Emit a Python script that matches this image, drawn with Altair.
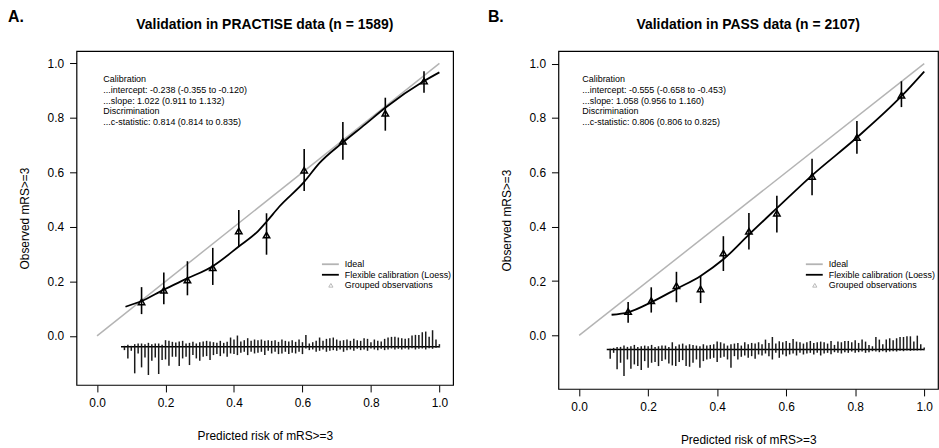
import altair as alt
import pandas as pd

# ---------------- Panel A: PRACTISE ----------------
A_title = "Validation in PRACTISE data (n = 1589)"
A_obs_x = [0.13, 0.195, 0.264, 0.338, 0.414, 0.495, 0.605, 0.718, 0.842, 0.955]
A_obs_y = [0.125, 0.168, 0.205, 0.25, 0.385, 0.37, 0.608, 0.714, 0.817, 0.935]
A_lo = [0.08, 0.116, 0.149, 0.187, 0.328, 0.298, 0.532, 0.646, 0.753, 0.892]
A_hi = [0.179, 0.233, 0.274, 0.323, 0.462, 0.45, 0.686, 0.785, 0.874, 0.971]
A_loess_x = [0.083, 0.13, 0.195, 0.264, 0.338, 0.414, 0.469, 0.495, 0.532, 0.605, 0.648, 0.718, 0.784, 0.842, 0.955, 1.0]
A_loess_y = [0.107, 0.128, 0.17, 0.211, 0.256, 0.328, 0.383, 0.419, 0.474, 0.565, 0.632, 0.71, 0.777, 0.837, 0.935, 0.967]
A_stats = ["Calibration", "...intercept: -0.238 (-0.355 to -0.120)", "...slope: 1.022 (0.911 to 1.132)",
           "Discrimination", "...c-statistic: 0.814 (0.814 to 0.835)"]
A_hist_start = 0.08
A_down = [10, 35, 12, 80, 20, 62, 32, 85, 42, 32, 82, 40, 38, 57, 30, 30, 58, 35, 30, 55, 25, 35, 42, 30, 28,
          40, 25, 22, 28, 20, 30, 20, 22, 25, 18, 15, 25, 15, 20, 18, 15, 25, 12, 20, 15,
          22, 20, 15, 22, 18, 20, 15, 22, 5, 10, 8, 15, 12, 8, 15, 12, 10, 12, 8, 15, 10, 8, 12, 6, 10,
          8, 12, 5, 8, 10, 6, 10, 8, 5, 8, 6, 8, 5, 8, 4, 8, 6, 5, 8, 4, 6, 3, 2]
A_up = [3, 6, 3, 8, 10, 10, 8, 12, 8, 10, 10, 6, 20, 18, 15, 13, 16, 18, 10, 12, 15, 10, 14, 16, 18,
        16, 14, 12, 18, 12, 15, 28, 22, 34, 16, 20, 26, 18, 22, 20, 22, 18, 20, 18, 20,
        15, 22, 18, 16, 20, 15, 22, 14, 36, 10, 14, 18, 28, 18, 24, 26, 28, 22, 18, 20, 22, 18, 24, 20, 18,
        26, 24, 14, 22, 18, 16, 24, 28, 30, 30, 28, 26, 24, 26, 34, 36, 36, 44, 46, 30, 50, 22, 8]

# ---------------- Panel B: PASS ----------------
B_title = "Validation in PASS data (n = 2107)"
B_obs_x = [0.142, 0.209, 0.282, 0.352, 0.418, 0.492, 0.573, 0.675, 0.805, 0.934]
B_obs_y = [0.088, 0.128, 0.183, 0.171, 0.303, 0.383, 0.45, 0.585, 0.728, 0.884]
B_lo = [0.047, 0.084, 0.122, 0.119, 0.237, 0.316, 0.379, 0.516, 0.668, 0.84]
B_hi = [0.123, 0.177, 0.234, 0.219, 0.365, 0.45, 0.514, 0.65, 0.789, 0.935]
B_loess_x = [0.094, 0.142, 0.209, 0.282, 0.352, 0.418, 0.492, 0.573, 0.675, 0.805, 0.934, 1.0]
B_loess_y = [0.076, 0.085, 0.122, 0.171, 0.219, 0.28, 0.371, 0.468, 0.589, 0.728, 0.88, 0.971]
B_stats = ["Calibration", "...intercept: -0.555 (-0.658 to -0.453)", "...slope: 1.058 (0.956 to 1.160)",
           "Discrimination", "...c-statistic: 0.806 (0.806 to 0.825)"]
B_hist_start = 0.09
B_down = [28, 10, 60, 40, 80, 30, 58, 45, 50, 62, 35, 55, 40, 38, 50, 35, 30, 42, 48, 50, 38, 32, 50, 52, 40,
          30, 55, 35, 30, 28, 25, 38, 25, 22, 30, 55, 20, 30, 22, 18, 25, 20, 28, 15, 18, 12,
          20, 30, 10, 25, 15, 20, 15, 12, 18, 10, 15, 12, 10, 15, 10, 18, 12, 10, 14, 8, 10, 12, 8, 10,
          6, 10, 8, 6, 10, 8, 5, 6, 8, 5, 8, 6, 5, 6, 4, 5, 3, 4, 3, 3, 2, 2]
B_up = [2, 5, 8, 8, 12, 8, 10, 14, 8, 10, 12, 10, 14, 8, 10, 12, 12, 8, 22, 10, 15, 18, 12, 16, 14,
        12, 10, 16, 12, 14, 16, 24, 22, 18, 12, 16, 18, 20, 12, 22, 16, 20, 18, 22, 16, 30,
        20, 38, 18, 25, 22, 26, 20, 32, 24, 22, 18, 22, 26, 20, 22, 24, 22, 18, 26, 14, 24, 22, 26, 26,
        22, 28, 20, 30, 24, 14, 10, 38, 30, 16, 30, 34, 28, 34, 38, 38, 40, 40, 24, 42, 16, 6]

legend_labels = ["Ideal", "Flexible calibration (Loess)", "Grouped observations"]
ticks = [0.0, 0.2, 0.4, 0.6, 0.8, 1.0]
FONT = "Liberation Sans"
HIST_UNIT = 1 / 822.0  # histogram bar units -> probability units


def panel(title, letter, obs_x, obs_y, lo, hi, lx, ly, stats, hstart, down, up,
          width, height, ydom, base, letter_x, stats_x, leg_x):
    xs = alt.Scale(domain=[-0.06, 1.04], nice=False, zero=False)
    ys = alt.Scale(domain=ydom, nice=False, zero=False)
    xaxis = alt.Axis(values=ticks, format=".1f", title="Predicted risk of mRS>=3",
                     titleX=width / 2, titleY=51, titleAlign="center", titleBaseline="middle")
    yaxis = alt.Axis(values=ticks, format=".1f", title="Observed mRS>=3",
                     titleX=-52, titleY=height / 2, titleAngle=-90,
                     titleAlign="center", titleBaseline="middle")

    def X(f):
        return alt.X(f, type="quantitative", scale=xs, axis=xaxis)

    def Y(f):
        return alt.Y(f, type="quantitative", scale=ys, axis=yaxis)

    one = pd.DataFrame({"k": [0]})

    ideal = alt.Chart(pd.DataFrame({"x": [0.0, 1.0], "y": [0.0, 1.0]})).mark_line(
        color="#b4b4b4", strokeWidth=1.5).encode(x=X("x"), y=Y("y"))
    loess = alt.Chart(pd.DataFrame({"x": lx, "y": ly})).mark_line(
        color="black", strokeWidth=1.8, interpolate="monotone").encode(x=X("x"), y=Y("y"))
    obs = pd.DataFrame({"x": obs_x, "y": obs_y, "lo": lo, "hi": hi})
    bars = alt.Chart(obs).mark_rule(color="black", strokeWidth=1.6).encode(
        x=X("x"), y=Y("lo"), y2=alt.Y2("hi"))
    tri = alt.Chart(obs).mark_point(shape="triangle-up", size=42, color="black",
                                    strokeWidth=1.5, opacity=1).encode(x=X("x"), y=Y("y"))

    bins = [round(hstart + 0.01 * i, 2) for i in range(len(up))]
    hist = pd.DataFrame({
        "x": bins + bins,
        "b": [base] * (2 * len(bins)),
        "t": [base + u * HIST_UNIT for u in up] + [base - d * HIST_UNIT for d in down],
    })
    hbars = alt.Chart(hist).mark_rule(color="#1a1a1a", strokeWidth=1.5).encode(
        x=X("x"), y=Y("b"), y2=alt.Y2("t"))
    hline = alt.Chart(pd.DataFrame({"x0": [bins[0] - 0.01], "x1": [bins[-1]], "y": [base]})).mark_rule(
        color="black", strokeWidth=1.5).encode(x=X("x0"), x2=alt.X2("x1"), y=Y("y"))

    stat_txt = alt.Chart(one).mark_text(
        align="left", baseline="alphabetic", fontSize=9, lineBreak="\n", lineHeight=10.7,
        font=FONT, color="black").encode(
        x=alt.value(stats_x), y=alt.value(31.5), text=alt.value("\n".join(stats)))

    lab = alt.Chart(one).mark_text(fontSize=16, fontWeight="bold", align="left",
                                   baseline="middle", font=FONT, color="black").encode(
        x=alt.value(letter_x), y=alt.value(-34), text=alt.value(letter))

    ttl = alt.Chart(one).mark_text(fontSize=14, fontWeight="bold", align="center",
                                   baseline="middle", font=FONT, color="black").encode(
        x=alt.value(width / 2), y=alt.value(-26), text=alt.value(title))

    # legend
    leg_layers = []
    ly0 = 214.5
    for i, (lab_txt, col) in enumerate(zip(legend_labels, ["#b4b4b4", "black", None])):
        yy = ly0 + 10.6 * i
        leg_layers.append(alt.Chart(one).mark_text(
            align="left", baseline="middle", fontSize=9, font=FONT, color="black").encode(
            x=alt.value(leg_x + 23), y=alt.value(yy), text=alt.value(lab_txt)))
        if col is not None:
            leg_layers.append(alt.Chart(one).mark_rule(color=col, strokeWidth=1.8).encode(
                x=alt.value(leg_x), x2=alt.value(leg_x + 17), y=alt.value(yy)))
        else:
            leg_layers.append(alt.Chart(one).mark_point(
                shape="triangle-up", size=18, color="#b8b8b8", strokeWidth=1, opacity=1).encode(
                x=alt.value(leg_x + 9), y=alt.value(yy)))

    return alt.layer(ideal, hline, hbars, loess, bars, tri, stat_txt, lab, ttl, *leg_layers).properties(
        width=width, height=height)


pA = panel(A_title, "A.", A_obs_x, A_obs_y, A_lo, A_hi, A_loess_x, A_loess_y, A_stats,
           A_hist_start, A_down, A_up, 379, 336, [-0.18, 1.045], -0.040, -69, 27, 247)
pB = panel(B_title, "B.", B_obs_x, B_obs_y, B_lo, B_hi, B_loess_x, B_loess_y, B_stats,
           B_hist_start, B_down, B_up, 382, 340, [-0.197, 1.046], -0.052, -71, 24, 249)

chart = alt.hconcat(pA, pB, spacing=33).properties(
    padding={"left": 7, "top": 7, "right": 0, "bottom": 0}
).configure_view(stroke="black", strokeWidth=1.2).configure_axis(
    domain=False, grid=False, tickColor="black", tickSize=7, tickWidth=1,
    labelFont=FONT, labelFontSize=12, labelColor="black", labelPadding=6,
    titleFont=FONT, titleFontSize=12, titleFontWeight="normal", titleColor="black"
).configure_text(font=FONT)

chart.save("out.html", embed_options={"renderer": "svg", "actions": False})
